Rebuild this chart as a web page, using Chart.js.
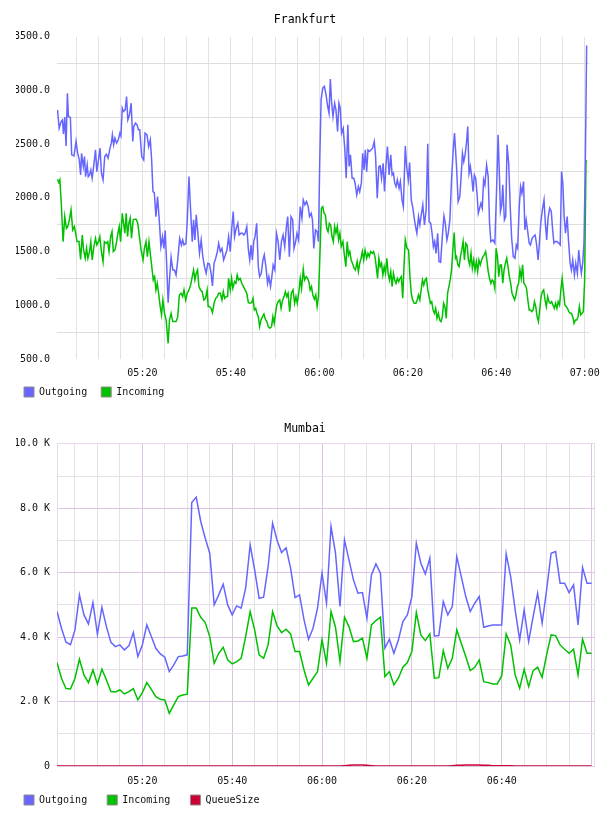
<!DOCTYPE html>
<html>
<head>
<meta charset="utf-8">
<script src="https://cdn.jsdelivr.net/npm/chart.js@4.4.1/dist/chart.umd.min.js"></script>
<style>
  html, body { margin: 0; padding: 0; background: #fff; }
  .box { position: relative; width: 608px; height: 408px; }
</style>
</head>
<body>
<div class="box"><canvas id="fra"></canvas></div>
<div class="box"><canvas id="mum"></canvas></div>
<script>
// time axis: minutes after 05:00
const fraOutMinutes = [
  0.81, 1.19, 1.63, 1.93, 2.16, 2.46, 2.75, 3.05, 3.28, 3.72, 4.02, 4.55, 5.0, 5.37, 5.74, 6.04, 6.26, 6.64, 6.93, 7.16,
  7.53, 7.76, 8.05, 8.35, 8.65, 9.03, 9.4, 9.7, 10.07, 10.44, 10.74, 11.11, 11.49, 11.86, 12.24, 12.68, 12.98, 13.21, 13.5, 13.8,
  14.18, 14.55, 14.92, 15.15, 15.45, 15.74, 16.12, 16.42, 16.71, 17.09, 17.46, 17.83, 18.06, 18.43, 18.8, 19.1, 19.4, 19.85, 20.3, 20.6,
  21.04, 21.42, 21.79, 22.09, 22.39, 22.69, 23.06, 23.43, 23.81, 24.18, 24.55, 24.85, 25.15, 25.45, 25.82, 26.12, 26.49, 26.87, 27.24, 27.61,
  27.99, 28.43, 28.81, 29.11, 29.4, 29.85, 30.15, 30.53, 30.9, 31.27, 31.57, 31.87, 32.17, 32.54, 32.91, 33.29, 33.66, 34.03, 34.41, 34.78,
  35.15, 35.53, 35.83, 36.2, 36.57, 36.95, 37.24, 37.62, 37.99, 38.36, 38.74, 39.11, 39.48, 39.86, 40.23, 40.53, 40.83, 41.2, 41.57, 41.87,
  42.25, 42.62, 42.92, 43.22, 43.59, 43.96, 44.26, 44.56, 44.86, 45.16, 45.46, 45.83, 46.2, 46.5, 46.87, 47.25, 47.55, 47.92, 48.29, 48.59,
  48.96, 49.26, 49.56, 49.93, 50.31, 50.68, 51.05, 51.43, 51.8, 52.17, 52.55, 52.85, 53.22, 53.59, 53.97, 54.27, 54.64, 54.94, 55.31, 55.68,
  56.06, 56.36, 56.73, 57.1, 57.48, 57.77, 58.15, 58.44, 58.74, 59.12, 59.49, 59.79, 60.09, 60.39, 60.76, 61.14, 61.51, 61.88, 62.18, 62.48,
  62.78, 63.08, 63.45, 63.75, 64.12, 64.42, 64.72, 65.02, 65.39, 65.76, 66.06, 66.44, 66.73, 67.03, 67.41, 67.78, 68.08, 68.45, 68.82, 69.12,
  69.5, 69.79, 70.09, 70.39, 70.69, 70.99, 71.36, 71.66, 72.03, 72.41, 72.71, 73.08, 73.45, 73.75, 74.05, 74.42, 74.72, 75.09, 75.39, 75.77,
  76.14, 76.44, 76.74, 77.04, 77.33, 77.63, 78.01, 78.31, 78.68, 78.98, 79.42, 79.72, 80.1, 80.4, 80.77, 81.14, 81.44, 81.74, 82.04, 82.41,
  82.71, 83.08, 83.38, 83.75, 84.13, 84.5, 84.8, 85.17, 85.47, 85.77, 86.07, 86.37, 86.74, 87.04, 87.41, 87.79, 88.16, 88.46, 88.83, 89.13,
  89.5, 89.87, 90.25, 90.55, 91.0, 91.37, 91.74, 92.04, 92.34, 92.64, 92.94, 93.24, 93.54, 93.83, 94.13, 94.43, 94.73, 95.03, 95.33, 95.63,
  95.92, 96.22, 96.52, 96.82, 97.12, 97.42, 97.79, 98.16, 98.46, 98.76, 99.21, 99.66, 100.03, 100.4, 100.7, 100.93, 101.22, 101.45, 101.82, 102.12,
  102.42, 102.79, 103.17, 103.46, 103.84, 104.21, 104.51, 104.81, 105.18, 105.48, 105.78, 106.15, 106.45, 106.75, 107.05, 107.42, 107.72, 108.09, 108.39, 108.77,
  109.06, 109.44, 109.73, 110.03, 110.41, 110.78, 111.08, 111.38, 111.68, 112.05, 112.42, 112.72, 113.02, 113.32, 113.69, 114.14, 114.44, 114.74, 115.03, 115.33,
  115.63, 116.01, 116.3, 116.68, 116.97, 117.27, 117.65, 117.95, 118.32, 118.62, 118.92, 119.22, 119.51, 119.81, 120.11, 120.41
];
const fraOutValues = [
  2820, 2649, 2711, 2726, 2596, 2752, 2484, 2975, 2757, 2751, 2401, 2391, 2525, 2416, 2354, 2214, 2416, 2292, 2385, 2198,
  2307, 2198, 2214, 2261, 2183, 2307, 2447, 2245, 2354, 2463, 2230, 2168, 2385, 2406, 2370, 2463, 2510, 2587, 2494, 2556,
  2510, 2541, 2603, 2578, 2836, 2805, 2820, 2944, 2727, 2774, 2882, 2525, 2665, 2696, 2680, 2634, 2634, 2385, 2354, 2603,
  2587, 2478, 2541, 2354, 2059, 2050, 1826, 2013, 1795, 1546, 1639, 1530, 1695, 1422, 1025, 1236, 1447, 1329, 1329, 1283,
  1422, 1624, 1562, 1608, 1562, 1577, 1795, 2198, 1888, 1593, 1795, 1608, 1842, 1670, 1484, 1608, 1453, 1360, 1298, 1391,
  1385, 1298, 1180, 1391, 1438, 1500, 1577, 1500, 1530, 1422, 1469, 1515, 1639, 1500, 1733, 1873, 1639, 1717, 1764, 1655,
  1670, 1670, 1655, 1670, 1733, 1515, 1422, 1562, 1422, 1593, 1639, 1764, 1360, 1267, 1298, 1422, 1469, 1360, 1205, 1267,
  1174, 1267, 1376, 1329, 1670, 1593, 1422, 1593, 1655, 1546, 1733, 1826, 1453, 1826, 1795, 1530, 1593, 1670, 1608, 1919,
  1811, 1981, 1935, 1966, 1919, 1826, 1857, 1795, 1530, 1701, 1686, 1593, 2354, 2913, 3022, 3038, 2960, 2851, 2789, 3106,
  2882, 2758, 2882, 2820, 2618, 2882, 2836, 2603, 2649, 2447, 2183, 2680, 2292, 2401, 2183, 2183, 2137, 2028, 2106, 2059,
  2137, 2416, 2261, 2447, 2245, 2447, 2432, 2447, 2463, 2525, 2385, 1997, 2292, 2298, 2183, 2323, 2059, 2323, 2478, 2214,
  2401, 2214, 2230, 2137, 2106, 2168, 2090, 2152, 1981, 1919, 2484, 2292, 2168, 2329, 1981, 1904, 1811, 1733, 1670, 1826,
  1748, 1857, 1935, 1748, 1888, 2503, 1779, 1764, 1670, 1546, 1593, 1484, 1670, 1407, 1400, 1639, 1832, 1764, 1608, 1670,
  1795, 2168, 2447, 2603, 2292, 1966, 2012, 2199, 2416, 2338, 2401, 2509, 2665, 2230, 2292, 2199, 2059, 2214, 2183, 2043,
  1857, 1904, 1950, 1904, 2168, 2121, 2307, 2199, 1764, 1593, 1609, 1578, 2043, 2587, 2199, 1873, 1935, 2121, 1795, 1826,
  2494, 2323, 1888, 1624, 1453, 1438, 1562, 1531, 1919, 2106, 2043, 2152, 1702, 1795, 1702, 1578, 1562, 1624, 1640, 1655,
  1578, 1422, 1578, 1764, 1888, 1981, 1764, 1609, 1811, 1904, 1873, 1702, 1578, 1593, 1593, 1578, 1562, 2245, 2137, 1826,
  1671, 1826, 1609, 1391, 1329, 1422, 1282, 1391, 1298, 1515, 1391, 1298, 1391, 1578, 2323, 3420
];
const fraInMinutes = [
  0.81, 1.11, 1.34, 1.63, 2.08, 2.46, 2.83, 3.13, 3.5, 3.87, 4.25, 4.62, 4.92, 5.22, 5.67, 6.04, 6.41, 6.71, 7.08, 7.38,
  7.68, 8.05, 8.35, 8.65, 9.03, 9.4, 9.7, 10.07, 10.37, 10.74, 11.11, 11.41, 11.79, 12.16, 12.46, 12.83, 13.13, 13.43, 13.8, 14.18,
  14.47, 14.77, 15.07, 15.45, 15.74, 16.04, 16.34, 16.64, 16.94, 17.24, 17.54, 17.91, 18.21, 18.58, 18.95, 19.33, 19.7, 20.15, 20.45, 20.82,
  21.12, 21.49, 21.86, 22.16, 22.46, 22.76, 23.06, 23.36, 23.66, 24.03, 24.33, 24.63, 25.0, 25.37, 25.82, 26.12, 26.49, 26.87, 27.24, 27.61,
  27.99, 28.36, 28.73, 29.11, 29.4, 29.78, 30.15, 30.53, 30.9, 31.27, 31.57, 31.87, 32.17, 32.47, 32.77, 33.14, 33.51, 33.89, 34.26, 34.63,
  34.86, 35.15, 35.53, 35.83, 36.2, 36.57, 36.95, 37.24, 37.62, 37.99, 38.29, 38.59, 38.96, 39.26, 39.48, 39.86, 40.16, 40.45, 40.83, 41.13,
  41.43, 41.72, 42.1, 42.47, 42.84, 43.22, 43.59, 43.96, 44.34, 44.71, 45.01, 45.31, 45.61, 45.9, 46.2, 46.5, 46.8, 47.17, 47.47, 47.85,
  48.14, 48.44, 48.82, 49.19, 49.49, 49.79, 50.08, 50.38, 50.68, 51.05, 51.35, 51.65, 52.02, 52.32, 52.62, 52.92, 53.29, 53.67, 54.04, 54.41,
  54.71, 55.01, 55.38, 55.68, 55.98, 56.36, 56.65, 57.03, 57.32, 57.62, 57.92, 58.22, 58.52, 58.89, 59.19, 59.49, 59.79, 60.09, 60.46, 60.76,
  61.06, 61.36, 61.66, 61.96, 62.25, 62.55, 62.85, 63.15, 63.45, 63.75, 64.05, 64.35, 64.64, 64.94, 65.32, 65.61, 65.99, 66.29, 66.59, 66.88,
  67.18, 67.48, 67.85, 68.15, 68.53, 68.82, 69.12, 69.42, 69.72, 70.02, 70.32, 70.69, 70.99, 71.29, 71.59, 71.96, 72.26, 72.56, 72.86, 73.15,
  73.45, 73.75, 74.05, 74.35, 74.65, 74.95, 75.24, 75.54, 75.84, 76.14, 76.44, 76.74, 77.04, 77.33, 77.63, 77.93, 78.23, 78.53, 78.83, 79.13,
  79.42, 79.8, 80.17, 80.47, 80.77, 81.07, 81.44, 81.81, 82.11, 82.41, 82.71, 83.01, 83.31, 83.6, 83.9, 84.2, 84.5, 84.8, 85.1, 85.4,
  85.69, 85.99, 86.29, 86.59, 86.89, 87.19, 87.49, 87.79, 88.08, 88.38, 88.68, 88.98, 89.28, 89.58, 89.87, 90.17, 90.47, 90.77, 91.0, 91.3,
  91.6, 91.89, 92.19, 92.49, 92.79, 93.09, 93.39, 93.68, 93.98, 94.28, 94.58, 94.88, 95.18, 95.48, 95.77, 96.07, 96.37, 96.67, 96.97, 97.27,
  97.57, 97.86, 98.16, 98.46, 98.76, 99.06, 99.36, 99.66, 99.95, 100.25, 100.55, 100.85, 101.15, 101.45, 101.75, 102.04, 102.34, 102.64, 102.94, 103.24,
  103.54, 103.84, 104.13, 104.43, 104.73, 105.03, 105.33, 105.63, 105.93, 106.22, 106.52, 106.82, 107.12, 107.42, 107.72, 108.02, 108.32, 108.61, 108.91, 109.21,
  109.51, 109.81, 110.11, 110.41, 110.7, 111.0, 111.3, 111.6, 111.9, 112.2, 112.5, 112.79, 113.09, 113.39, 113.69, 113.99, 114.29, 114.59, 114.88, 115.18,
  115.48, 115.78, 116.08, 116.38, 116.68, 116.97, 117.27, 117.57, 117.87, 118.17, 118.47, 118.77, 119.07, 119.36, 119.66, 119.96, 120.26, 120.45
];
const fraInValues = [
  2174, 2143, 2168, 1981, 1593, 1826, 1717, 1733, 1795, 1888, 1702, 1733, 1671, 1593, 1593, 1428, 1655, 1515, 1438, 1531,
  1438, 1500, 1593, 1422, 1547, 1624, 1562, 1593, 1640, 1500, 1407, 1593, 1578, 1593, 1500, 1640, 1686, 1500, 1515, 1593,
  1671, 1733, 1593, 1857, 1764, 1671, 1857, 1640, 1764, 1811, 1624, 1795, 1801, 1801, 1764, 1640, 1515, 1422, 1531, 1593,
  1453, 1593, 1453, 1345, 1236, 1267, 1143, 1205, 1112, 988, 910, 1050, 925, 863, 646, 863, 925, 848, 848, 848,
  894, 1096, 1112, 1081, 1143, 1050, 1112, 1143, 1189, 1267, 1329, 1236, 1298, 1329, 1174, 1143, 1127, 1050, 1065, 1143,
  988, 988, 972, 932, 1019, 1065, 1081, 1112, 1112, 1050, 1127, 1065, 1081, 1081, 1251, 1143, 1251, 1158, 1220, 1205,
  1283, 1236, 1251, 1205, 1174, 1143, 1112, 1025, 1019, 1025, 1065, 957, 972, 925, 894, 801, 863, 894, 919, 863,
  848, 801, 786, 801, 894, 832, 925, 1003, 1034, 1050, 972, 1043, 1081, 1127, 1081, 1112, 941, 1112, 1143, 1019,
  1081, 1019, 1127, 1251, 1158, 1335, 1236, 1267, 1251, 1220, 1143, 1174, 1096, 1056, 1096, 988, 1081, 1422, 1904, 1919,
  1857, 1842, 1717, 1686, 1764, 1748, 1640, 1593, 1733, 1671, 1733, 1609, 1671, 1547, 1593, 1484, 1360, 1593, 1469, 1500,
  1422, 1391, 1345, 1329, 1407, 1314, 1391, 1438, 1500, 1422, 1515, 1438, 1484, 1453, 1500, 1484, 1500, 1453, 1360, 1251,
  1438, 1360, 1391, 1283, 1360, 1298, 1438, 1298, 1236, 1314, 1174, 1298, 1236, 1205, 1251, 1220, 1251, 1267, 1065, 1360,
  1609, 1531, 1515, 1267, 1112, 1050, 1019, 1019, 1050, 1096, 1050, 1143, 1236, 1189, 1236, 1251, 1143, 1081, 1019, 1034,
  957, 925, 972, 879, 925, 863, 848, 894, 1019, 988, 879, 1112, 1174, 1236, 1329, 1515, 1677, 1438, 1453, 1376,
  1360, 1453, 1515, 1593, 1422, 1578, 1562, 1422, 1376, 1484, 1345, 1422, 1329, 1407, 1314, 1422, 1376, 1422, 1453, 1469,
  1500, 1422, 1314, 1251, 1205, 1236, 1220, 1158, 1531, 1453, 1267, 1376, 1376, 1205, 1329, 1391, 1438, 1360, 1267, 1205,
  1112, 1081, 1050, 1096, 1174, 1205, 1329, 1251, 1376, 1205, 1189, 1158, 1050, 956, 956, 941, 956, 1034, 988, 894,
  848, 956, 1081, 1127, 1143, 1050, 988, 1081, 1034, 1019, 1034, 1003, 972, 1019, 972, 1034, 1003, 1143, 1251, 1127,
  1003, 988, 972, 941, 925, 925, 894, 832, 863, 863, 894, 988, 910, 925, 941, 1236, 2339, 2350
];

// Mumbai: one sample per minute from 05:01
const mumOut = [
  4793, 4276, 3841, 3768, 4224, 5311, 4690, 4410, 5073, 4089, 4928, 4327, 3841, 3706, 3758, 3603, 3727, 4141, 3396, 3758,
  4379, 4017, 3654, 3478, 3375, 2930, 3137, 3396, 3416, 3450, 8179, 8345, 7589, 7071, 6605, 5000, 5311, 5643, 5000, 4690,
  4969, 4897, 5518, 6864, 6088, 5207, 5238, 6191, 7537, 6999, 6626, 6771, 6139, 5228, 5311, 4535, 3934, 4276, 4900, 5984,
  5052, 7433, 6605, 4949, 7019, 6398, 5777, 5363, 5383, 4586, 5932, 6274, 5984, 3654, 3934, 3499, 3913, 4483, 4690, 5259,
  6916, 6295, 5963, 6450, 4038, 4048, 5104, 4690, 4949, 6502, 5880, 5259, 4793, 5052, 5259, 4307, 4348, 4379, 4379, 4379,
  6585, 5880, 4845, 3913, 4845, 3861, 4638, 5363, 4431, 5466, 6605, 6657, 5673, 5673, 5383, 5622, 4379, 6160, 5673, 5673
];
const mumIn = [
  3209, 2723, 2402, 2391, 2723, 3313, 2826, 2588, 2981, 2547, 3002, 2671, 2309, 2298, 2360, 2236, 2309, 2402, 2050, 2277,
  2588, 2381, 2153, 2070, 2050, 1636, 1894, 2153, 2205, 2230, 4900, 4900, 4617, 4452, 4017, 3189, 3499, 3685, 3292, 3168,
  3240, 3344, 4017, 4793, 4224, 3447, 3344, 3758, 4793, 4348, 4141, 4245, 4100, 3551, 3551, 2981, 2516, 2723, 2930, 3913,
  3189, 4793, 4307, 3240, 4617, 4327, 3861, 3882, 3965, 3344, 4379, 4514, 4617, 2774, 2930, 2516, 2723, 3064, 3209, 3551,
  4762, 4069, 3892, 4100, 2723, 2743, 3582, 3033, 3344, 4224, 3810, 3396, 2961, 3064, 3292, 2619, 2588, 2547, 2547, 2795,
  4100, 3758, 2826, 2412, 3002, 2464, 2961, 3064, 2754, 3447, 4069, 4048, 3758, 3623, 3499, 3623, 2826, 3934, 3499, 3499
];
const mumQueue = [
  0, 0, 0, 0, 0, 0, 0, 0, 0, 0, 0, 0, 0, 0, 0, 0, 0, 0, 0, 0,
  0, 0, 0, 0, 0, 0, 0, 0, 0, 0, 0, 0, 0, 0, 0, 0, 0, 0, 0, 0,
  0, 0, 0, 0, 0, 0, 0, 0, 0, 0, 0, 0, 0, 0, 0, 0, 0, 0, 0, 0,
  0, 0, 0, 0, 10, 20, 30, 30, 30, 20, 10, 0, 0, 0, 0, 0, 0, 0, 0, 0,
  0, 0, 0, 0, 0, 0, 0, 0, 10, 20, 20, 30, 30, 30, 30, 20, 20, 10, 10, 10,
  10, 10, 0, 0, 0, 0, 0, 0, 0, 0, 0, 0, 0, 0, 0, 0, 0, 0, 0, 0
];
const mumMinutes = mumOut.map((_, i) => i + 1);

const BLUE = "#6666ff";
const GREEN = "#00c000";
const RED = "#cc0033";
const FONT = "'DejaVu Sans Mono', monospace";

const pairs = (xs, ys) => ys.map((y, i) => ({ x: xs[i], y: y }));

const fmtTime = (m) => {
  const h = 5 + Math.floor(m / 60);
  const mm = m % 60;
  return String(h).padStart(2, "0") + ":" + String(mm).padStart(2, "0");
};

const line = (label, color, data) => ({
  label: label,
  data: data,
  borderColor: color,
  backgroundColor: color,
  borderWidth: 1.5,
  pointRadius: 0,
  tension: 0,
  fill: false
});

// legend entries share one width, as in the original (trailing spaces widen the shorter ones)
const legendLabels = (width) => (chart) =>
  Chart.defaults.plugins.legend.labels.generateLabels(chart).map(l => ({
    ...l, text: l.text.padEnd(width, " "), fillStyle: l.strokeStyle, strokeStyle: "#8c8c8c", lineWidth: 1
  }));

Chart.defaults.font.family = FONT;
Chart.defaults.font.size = 10;
Chart.defaults.color = "#111";

const make_chart = (id, cfg) => new Chart(document.getElementById(id), {
  type: "line",
  data: { datasets: cfg.datasets },
  options: {
    responsive: true,
    maintainAspectRatio: false,
    animation: false,
    events: [],
    layout: { padding: { left: 16, right: 14, top: 0, bottom: 1 } },
    plugins: {
      title: {
        display: true, text: cfg.title, color: "#000",
        font: { size: 11.5, weight: "normal" },
        padding: cfg.titlePad
      },
      legend: {
        position: "bottom", align: "start",
        labels: { boxWidth: 10, boxHeight: 10, padding: 8, generateLabels: legendLabels(cfg.legendWidth) }
      },
      tooltip: { enabled: false }
    },
    scales: cfg.scales
  }
});

make_chart("fra", {
  title: "Frankfurt",
  titlePad: { top: 13, bottom: 10 },
  legendWidth: 9,
  datasets: [
    line("Outgoing", BLUE, pairs(fraOutMinutes, fraOutValues)),
    line("Incoming", GREEN, pairs(fraInMinutes, fraInValues))
  ],
  scales: {
    x: {
      type: "linear", min: 0.7, max: 121.05,
      afterFit: (s) => { s.height = 20; },
      border: { display: false },
      grid: { color: "#e2e2e2", drawTicks: false },
      ticks: {
        stepSize: 5, includeBounds: false, autoSkip: false, maxRotation: 0, padding: 8,
        callback: (v) => (v % 20 === 0 ? fmtTime(v) : "")
      }
    },
    y: {
      type: "linear", min: 500, max: 3500,
      afterFit: (s) => { s.width = 41; },
      border: { display: false },
      grid: {
        drawTicks: false,
        color: (c) => (c.tick && c.tick.value % 500 === 0 ? "rgba(0,0,0,0)" : "#dedede")
      },
      ticks: {
        stepSize: 250, autoSkip: false, padding: 7,
        callback: (v) => (v % 500 === 0 ? v.toFixed(1) : "")
      }
    }
  }
});

make_chart("mum", {
  title: "Mumbai",
  titlePad: { top: 14, bottom: 8 },
  legendWidth: 10,
  datasets: [
    line("Outgoing", BLUE, pairs(mumMinutes, mumOut)),
    line("Incoming", GREEN, pairs(mumMinutes, mumIn)),
    line("QueueSize", RED, pairs(mumMinutes, mumQueue))
  ],
  scales: {
    x: {
      type: "linear", min: 1, max: 120.55,
      afterFit: (s) => { s.height = 21; },
      border: { display: false },
      grid: {
        drawTicks: false,
        color: (c) => (c.tick && c.tick.value % 20 === 0 ? "#dcc3e2" : "#e6e1e6")
      },
      ticks: {
        stepSize: 5, includeBounds: false, autoSkip: false, maxRotation: 0, padding: 9,
        callback: (v) => (v % 20 === 0 && v < 120 ? fmtTime(v) : "")
      }
    },
    y: {
      type: "linear", min: 0, max: 10000,
      afterFit: (s) => { s.width = 41; },
      border: { display: true, color: "#ead8ee" },
      grid: {
        drawTicks: false,
        color: (c) => {
          const v = c.tick ? c.tick.value : 0;
          if (v === 10000) return "#ead8ee";
          return v % 2000 === 0 ? "#dcc3e2" : "#e6e1e6";
        }
      },
      ticks: {
        stepSize: 1000, autoSkip: false, padding: 7,
        callback: (v) => (v === 0 ? "0" : v % 2000 === 0 ? (v / 1000).toFixed(1) + " K" : "")
      }
    },
    yRight: {
      type: "linear", position: "right", min: 0, max: 10000,
      afterFit: (s) => { s.width = 0; },
      border: { display: true, color: "#ead8ee" },
      grid: { display: false },
      ticks: { display: false }
    }
  }
});
</script>
</body>
</html>
